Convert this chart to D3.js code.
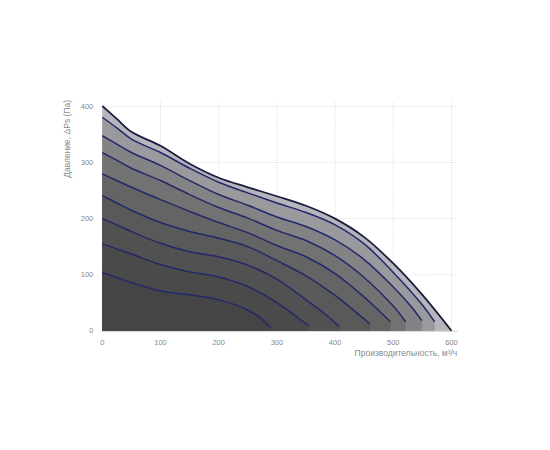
<!DOCTYPE html>
<html>
<head>
<meta charset="utf-8">
<script src="https://cdn.jsdelivr.net/npm/d3@7"></script>
<style>
  body { margin: 0; background: #fff; }
  svg text { font-family: "Liberation Sans", Arial, sans-serif; }
</style>
</head>
<body>
<div class="chart"></div>
<script>
// fan curves, [flow m3/h, pressure Pa], lowest speed first
var curve1 = [[0,104],[25,95],[50,86],[100,71],[150,64],[200,55],[250,37],[275,20],[290,5]];
var curve2 = [[0,155],[25,146],[50,137],[100,118],[150,105],[200,96],[250,79],[300,50],[330,28],[355,8]];
var curve3 = [[0,200],[25,189],[50,177],[100,156],[150,141],[200,132],[250,117],[300,92],[350,55],[380,32],[407,8]];
var curve4 = [[0,241],[25,228],[50,215],[100,193],[150,177],[200,165],[250,150],[300,125],[350,98],[400,63],[430,38],[460,12]];
var curve5 = [[0,280],[25,268],[50,256],[100,234],[150,213],[200,193],[250,175],[300,152],[350,132],[400,102],[450,60],[475,36],[495,16]];
var curve6 = [[0,318],[25,304],[50,290],[100,268],[150,243],[200,220],[250,201],[300,179],[350,161],[400,134],[450,95],[500,44],[521,16]];
var curve7 = [[0,348],[25,333],[50,318],[100,295],[150,268],[200,243],[250,224],[300,203],[350,186],[400,162],[450,127],[500,78],[530,44],[549,18]];
var curve8 = [[0,381],[25,362],[50,342],[100,318],[150,290],[200,265],[250,246],[300,228],[350,211],[400,189],[450,155],[500,104],[550,46],[571,16]];
var curve9 = [[0,401],[25,378],[50,355],[100,330],[150,298],[200,273],[250,256],[300,240],[350,223],[400,200],[450,167],[500,120],[550,64],[600,0]];

var xTicks = [0, 100, 200, 300, 400, 500, 600];
var yTicks = [0, 100, 200, 300, 400];
var fills = ["#454545", "#4a4a4a", "#515151", "#595959", "#646464", "#727272", "#838385", "#9a9a9e", "#b5b5bb"];

var curves = [curve1, curve2, curve3, curve4, curve5, curve6, curve7, curve8, curve9];

var width = 550, height = 450;
var plotLeft = 102.3, plotRight = 457.3, plotTop = 101, plotBottom = 330.7;

var svg = d3.select(".chart").append("svg")
  .attr("width", width)
  .attr("height", height);

var x = d3.scaleLinear().domain([0, 610]).range([plotLeft, plotRight]);
var y = d3.scaleLinear().domain([0, 410]).range([plotBottom, plotTop]);

// grid
svg.append("g").selectAll("line")
  .data(xTicks.slice(1))
  .enter().append("line")
  .attr("x1", function(d) { return x(d); })
  .attr("x2", function(d) { return x(d); })
  .attr("y1", plotBottom)
  .attr("y2", plotTop)
  .attr("stroke", "#d8d8d8")
  .attr("stroke-dasharray", "1,1.5");

svg.append("g").selectAll("line")
  .data(yTicks.slice(1))
  .enter().append("line")
  .attr("x1", plotLeft)
  .attr("x2", plotRight)
  .attr("y1", function(d) { return y(d); })
  .attr("y2", function(d) { return y(d); })
  .attr("stroke", "#d8d8d8")
  .attr("stroke-dasharray", "1,1.5");

// bottom axis line
svg.append("line")
  .attr("x1", plotLeft).attr("x2", plotRight)
  .attr("y1", plotBottom + 0.5).attr("y2", plotBottom + 0.5)
  .attr("stroke", "#c8c8c8");

var area = d3.area()
  .x(function(d) { return x(d[0]); })
  .y0(y(0))
  .y1(function(d) { return y(d[1]); })
  .curve(d3.curveCatmullRom.alpha(0.5));

var line = d3.line()
  .x(function(d) { return x(d[0]); })
  .y(function(d) { return y(d[1]); })
  .curve(d3.curveCatmullRom.alpha(0.5));

// biggest area first, so the lower ones sit on top
for (var i = curves.length - 1; i >= 0; i--) {
  svg.append("path")
    .attr("d", area(curves[i]))
    .attr("fill", fills[i]);
}

curves.forEach(function(c, i) {
  var isTop = i == curves.length - 1;
  svg.append("path")
    .attr("d", line(c))
    .attr("fill", "none")
    .attr("stroke", isTop ? "#1b1d40" : "#22296a")
    .attr("stroke-width", isTop ? 1.8 : 1.5);
});

// tick labels
svg.append("g").selectAll("text")
  .data(yTicks)
  .enter().append("text")
  .attr("x", plotLeft - 9)
  .attr("y", function(d) { return y(d) + 2.5; })
  .attr("text-anchor", "end")
  .attr("font-size", "7.5px")
  .attr("fill", "#888")
  .text(function(d) { return d; });

svg.append("g").selectAll("text")
  .data(xTicks)
  .enter().append("text")
  .attr("x", function(d) { return x(d); })
  .attr("y", plotBottom + 14)
  .attr("text-anchor", "middle")
  .attr("font-size", "7.5px")
  .attr("fill", "#888")
  .text(function(d) { return d; });

// titles
svg.append("text")
  .attr("x", plotRight)
  .attr("y", plotBottom + 25)
  .attr("text-anchor", "end")
  .attr("font-size", "8.5px")
  .attr("fill", "#8a8a8a")
  .text("Производительность, м³/ч");

svg.append("text")
  .attr("transform", "translate(70," + 100 + ") rotate(-90)")
  .attr("text-anchor", "end")
  .attr("font-size", "8.5px")
  .attr("fill", "#8a8a8a")
  .text("Давление, ΔPs (Па)");
</script>
</body>
</html>
